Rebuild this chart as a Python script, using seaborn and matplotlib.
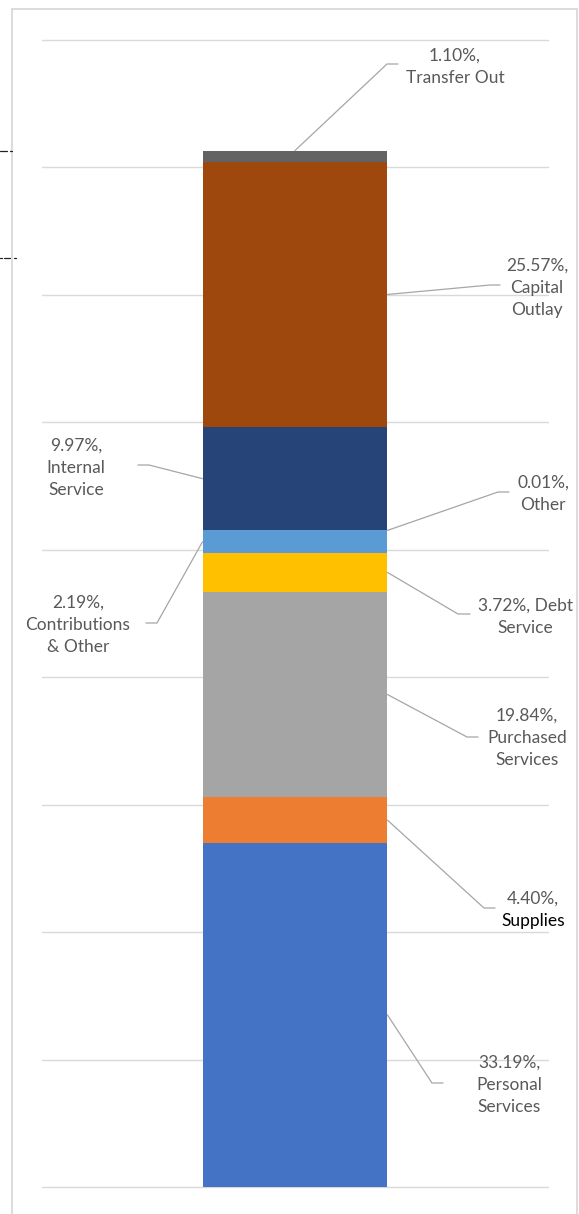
import numpy as np
import pandas as pd
import matplotlib
matplotlib.use("Agg")
import matplotlib.pyplot as plt
from matplotlib.lines import Line2D
import seaborn as sns

# ---- data: share of total expenditures, stacked bottom to top ----
categories = ["Personal Services", "Supplies", "Purchased Services", "Debt Service",
              "Contributions & Other", "Other", "Internal Service", "Capital Outlay",
              "Transfer Out"]
shares = [33.19, 4.40, 19.84, 3.72, 2.19, 0.01, 9.97, 25.57, 1.10]
colors = ["#4472C4", "#ED7D31", "#A5A5A5", "#FFC000", "#5B9BD5", "#70AD47",
          "#264478", "#9E480E", "#636363"]
# label wording with line breaks; {p} is replaced by the formatted share
label_templates = ["{p},\nPersonal\nServices", "{p},\nSupplies", "{p},\nPurchased\nServices",
                   "{p}, Debt\nService", "{p},\nContributions\n& Other", "{p},\nOther",
                   "{p},\nInternal\nService", "{p},\nCapital\nOutlay", "{p},\nTransfer Out"]

# ---- layout (figure pixels, measured from the top) ----
W, H = 579, 1214
AX_L, AX_R, AX_T, AX_B = 42, 548, 40, 1187
BAR_W = 0.3656
GRID_STEP = 12.295          # value spacing of horizontal gridlines
N_GRID = 9
# side the leader attaches to, text centre (x, first line y), elbow and end of leader
label_side = ["right", "right", "right", "right", "left", "right", "left", "right", "top"]
text_pos = [(509, 1062), (533, 898), (527, 715), (525, 605), (78, 602),
            (543, 482), (76, 445), (537, 265), (455, 55)]
elbows = [((432, 1083), (443, 1083)), ((484, 908), (495, 908)), ((467, 737), (478, 737)),
          ((458, 614), (470, 614)), ((157, 623), (146, 623)), ((498, 492), (509, 492)),
          ((149, 465), (138, 465)), ((490, 285), (500, 285)), ((387, 64), (398, 64))]
line_colors = {1: ["#595959", "#000000"]}
LINE_GAP = 22
TEXT_GREY = "#595959"

sns.set_style("white")
plt.rcParams["font.family"] = ["Lato", "DejaVu Sans"]

fig = plt.figure(figsize=(W / 100, H / 100), dpi=100)
ax = fig.add_axes([AX_L / W, (H - AX_B) / H, (AX_R - AX_L) / W, (AX_B - AX_T) / H])

df = pd.DataFrame({"category": categories, "share": shares, "color": colors})
df["top"] = df["share"].cumsum()
df["bottom"] = df["top"] - df["share"]
df["group"] = "Expenditures"

# stacked bar: cumulative totals drawn from the tallest down
for i in range(len(df) - 1, -1, -1):
    sub = df.iloc[[i]]
    sns.barplot(data=sub, x="group", y="top", color=sub["color"].iloc[0],
                width=BAR_W, saturation=1, linewidth=0, ax=ax, zorder=2)

ax.set_xlim(-0.5, 0.5)
ax.set_ylim(0, N_GRID * GRID_STEP)
ax.set_yticks(np.arange(N_GRID + 1) * GRID_STEP)
ax.set_xticks([])
ax.tick_params(left=False, labelleft=False)
ax.set_xlabel("")
ax.set_ylabel("")
ax.grid(axis="y", color="#D9D9D9", linewidth=1.0)
ax.set_axisbelow(True)
for gl in ax.get_ygridlines():
    gl.set_clip_on(False)
for s in ax.spines.values():
    s.set_visible(False)

fig.canvas.draw()
inv = ax.transData.inverted()


def to_data(xp, yp):
    return inv.transform((xp, H - yp))


for i, row in df.iterrows():
    side = label_side[i]
    mid = (row["bottom"] + row["top"]) / 2
    if side == "right":
        anchor = (BAR_W / 2, mid)
    elif side == "left":
        anchor = (-BAR_W / 2, mid)
    else:
        anchor = (0.0, row["top"])
    (e1, e2) = elbows[i]
    p1 = to_data(*e1)
    p2 = to_data(*e2)
    ax.plot([anchor[0], p1[0], p2[0]], [anchor[1], p1[1], p2[1]],
            color="#A6A6A6", linewidth=0.9, clip_on=False, zorder=3)

    text = label_templates[i].format(p=f"{row['share']:.2f}%")
    lines = text.split("\n")
    cols = line_colors.get(i, [TEXT_GREY] * len(lines))
    tx, ty = text_pos[i]
    for k, ln in enumerate(lines):
        x, y = to_data(tx, ty + k * LINE_GAP + 6)
        ax.text(x, y, ln, ha="center", va="baseline", fontsize=12.5,
                color=cols[k], clip_on=False, zorder=4)

# chart area border
border = "#D9D9D9"
fig.add_artist(Line2D([12 / W, 12 / W], [0, 1 - 9 / H], color=border, lw=1.3,
                      transform=fig.transFigure))
fig.add_artist(Line2D([12 / W, 577 / W], [1 - 9 / H, 1 - 9 / H], color=border, lw=1.3,
                      transform=fig.transFigure))
fig.add_artist(Line2D([577 / W, 577 / W], [0, 1 - 9 / H], color=border, lw=1.3,
                      transform=fig.transFigure))
# small tick marks at the left margin
for (x0, x1, yp) in [(0, 7, 151), (10, 12, 151), (0, 1.5, 258), (4, 10, 258), (14, 16, 258)]:
    fig.add_artist(Line2D([x0 / W, x1 / W], [1 - yp / H, 1 - yp / H], color="#222222",
                          lw=0.9, transform=fig.transFigure))

fig.savefig("out.png", dpi=100, facecolor="white")
